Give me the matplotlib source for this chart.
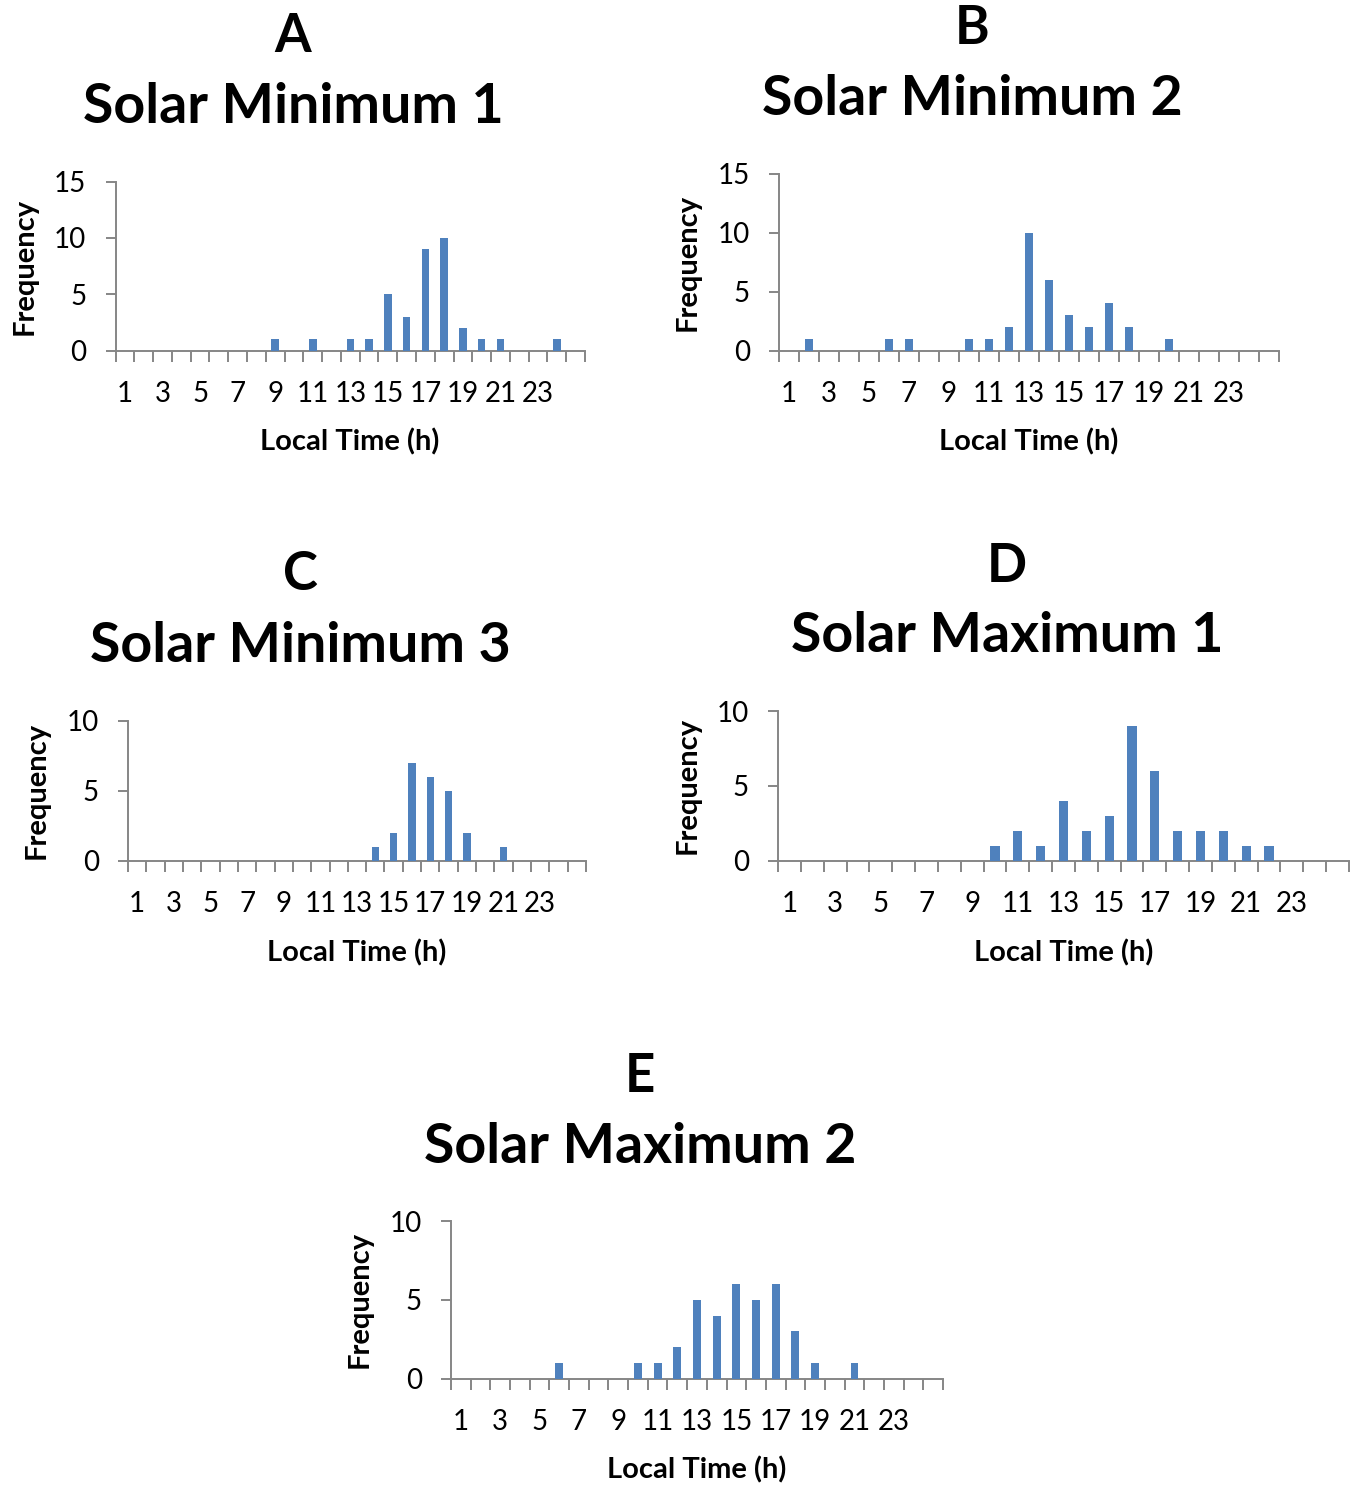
import numpy as np
import matplotlib.pyplot as plt

plt.rcParams['font.family'] = ['Lato', 'DejaVu Sans']

# 25 hourly categories, labels shown on every other slot (1, 3, ..., 23)
slots = list(range(1, 26))
tick_labels = [str(h) for h in range(1, 24, 2)]

solar_min_1 = [0, 0, 0, 0, 0, 0, 0, 0, 1, 0, 1, 0, 1, 1, 5, 3, 9, 10, 2, 1, 1, 0, 0, 1, 0]
solar_min_2 = [0, 1, 0, 0, 0, 1, 1, 0, 0, 1, 1, 2, 10, 6, 3, 2, 4, 2, 0, 1, 0, 0, 0, 0, 0]
solar_min_3 = [0, 0, 0, 0, 0, 0, 0, 0, 0, 0, 0, 0, 0, 1, 2, 7, 6, 5, 2, 0, 1, 0, 0, 0, 0]
solar_max_1 = [0, 0, 0, 0, 0, 0, 0, 0, 0, 1, 2, 1, 4, 2, 3, 9, 6, 2, 2, 2, 1, 1, 0, 0, 0]
solar_max_2 = [0, 0, 0, 0, 0, 1, 0, 0, 0, 1, 1, 2, 5, 4, 6, 5, 6, 3, 1, 0, 1, 0, 0, 0, 0]

bar_color = '#4F81BD'
axis_color = '#868686'

W, H = 1360, 1485
fig = plt.figure(figsize=(W / 100, H / 100), dpi=100)


def px_axes(left, right, top, bottom):
    return fig.add_axes([left / W, 1 - bottom / H, (right - left) / W, (bottom - top) / H])


# panel: letter, title, data, ymax, axes box (px), letter/title centre, ylabel x, xlabel centre
panels = [
    ('A', 'Solar Minimum 1', solar_min_1, 15, (115.6, 585, 181.5, 350.5), (293, 37, 107), 25, (350, 442)),
    ('B', 'Solar Minimum 2', solar_min_2, 15, (779, 1279, 173.5, 350.5), (972, 29, 99), 688, (1029, 442)),
    ('C', 'Solar Minimum 3', solar_min_3, 10, (128, 586, 720.5, 860.5), (300, 575, 646), 37, (357, 953)),
    ('D', 'Solar Maximum 1', solar_max_1, 10, (778, 1349, 711, 860.5), (1007, 566, 636), 688, (1064, 953)),
    ('E', 'Solar Maximum 2', solar_max_2, 10, (451, 943, 1221, 1378.5), (640, 1076, 1147), 360, (697, 1470)),
]

x = np.arange(len(slots))
for letter, title, vals, ymax, box, tpos, ylab_x, xlab in panels:
    ax = px_axes(*box)
    ax.bar(x, vals, width=0.4, color=bar_color, zorder=3)
    ax.set_xlim(-0.5, len(slots) - 0.5)
    ax.set_ylim(0, ymax)
    ax.set_yticks(np.arange(0, ymax + 1, 5))
    ax.set_xticks(np.arange(-0.5, len(slots)), labels=[])
    ax.set_xticks(np.arange(0, 23, 2), labels=tick_labels, minor=True)
    ax.tick_params(axis='x', which='major', direction='out', length=8, width=1.4, color=axis_color)
    ax.tick_params(axis='x', which='minor', length=0, pad=22, labelsize=20)
    ax.tick_params(axis='y', direction='out', length=7, width=1.4, color=axis_color, pad=14, labelsize=20)
    for s in ['top', 'right']:
        ax.spines[s].set_visible(False)
    for s in ['left', 'bottom']:
        ax.spines[s].set_color(axis_color)
        ax.spines[s].set_linewidth(1.4)

    cx, ly, ty = tpos
    fig.text(cx / W, 1 - ly / H, letter, ha='center', va='center', fontsize=38, fontweight='bold')
    fig.text(cx / W, 1 - ty / H, title, ha='center', va='center', fontsize=40, fontweight='bold')
    ymid = (box[2] + box[3]) / 2
    fig.text(ylab_x / W, 1 - ymid / H, 'Frequency', rotation=90, ha='center', va='center',
             fontsize=21, fontweight='bold')
    fig.text(xlab[0] / W, 1 - xlab[1] / H, 'Local Time (h)', ha='center', va='center',
             fontsize=21, fontweight='bold')

fig.savefig('out.png', dpi=100)
